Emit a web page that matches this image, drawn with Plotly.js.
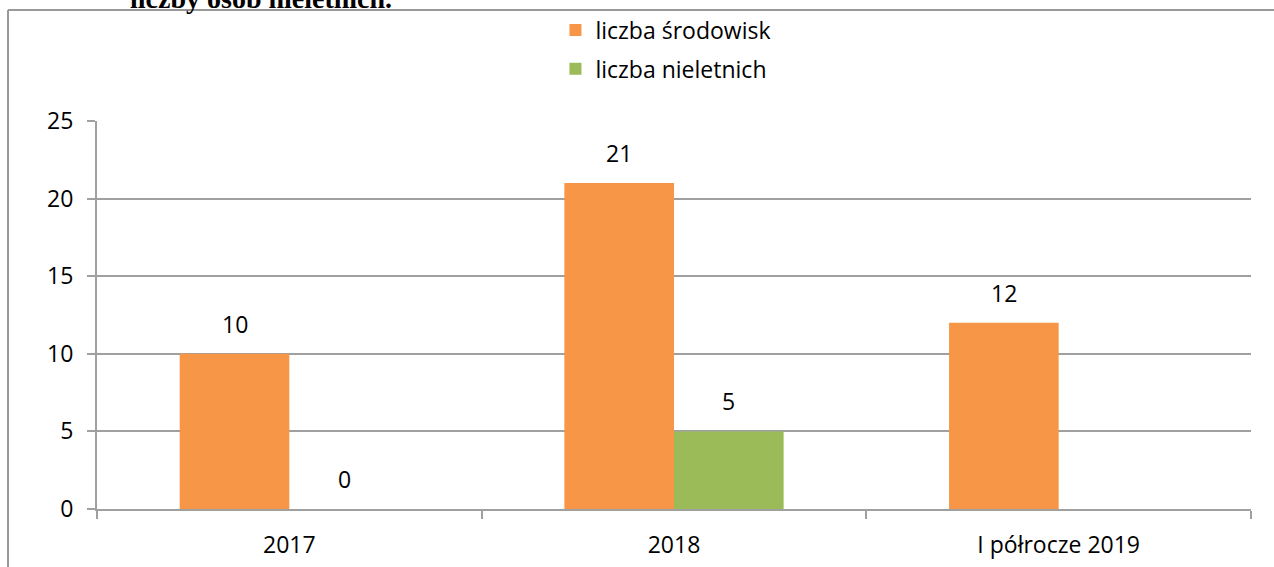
<!DOCTYPE html>
<html>
<head>
<meta charset="utf-8">
<script src="https://cdn.plot.ly/plotly-3.0.1.min.js"></script>
<style>
  html, body { margin: 0; padding: 0; background: #fff; overflow: hidden; }
  #wrap { position: relative; width: 1274px; height: 567px; }
  #frag { position: absolute; left: 130px; top: -15px; font-family: "Liberation Serif", serif; font-weight: bold; font-size: 28px; line-height: 28px; color: #000; white-space: nowrap; z-index: 2; }
  #chart { position: absolute; left: 0; top: 0; width: 1274px; height: 567px; }
</style>
</head>
<body>
<div id="wrap">
  <div id="frag">liczby osób nieletnich.</div>
  <div id="chart"></div>
</div>
<script>
// Data
const categories = ["2017", "2018", "I półrocze 2019"];
const seriesNames = ["liczba środowisk", "liczba nieletnich"];
const srodowisk = [10, 21, 12];
const nieletnich = [0, 5, null];
const yTicks = [0, 5, 10, 15, 20, 25];

const FONT = "Open Sans, Noto Sans, sans-serif";
const FS = 23;
const colors = ["#F79646", "#9BBB59"];
const series = [srodowisk, nieletnich];

const W = 1274, H = 567;
const margin = { l: 97, r: 23, t: 121, b: 58, autoexpand: false };
const bargap = 0.43;
const plotW = W - margin.l - margin.r;
// half of one bar's width in pixels (used to centre the value labels on each bar)
const barHalf = plotW / categories.length * (1 - bargap) / series.length / 2;

const traces = series.map((vals, i) => ({
  type: "bar", name: seriesNames[i], x: categories, y: vals,
  marker: { color: colors[i] },
  legendgroup: "g" + i, hoverinfo: "none"
}));

// value labels: category axis positions are serial numbers of the categories
const annotations = [];
series.forEach((vals, i) => {
  vals.forEach((v, j) => {
    if (v === null) return;
    annotations.push({
      x: j, y: v, xref: "x", yref: "y",
      text: String(v), showarrow: false,
      xanchor: "center", yanchor: "bottom",
      xshift: (i === 0 ? -1 : 1) * barHalf, yshift: 12,
      font: { family: FONT, size: FS, color: "#000" }
    });
  });
});

const grid = "#a0a0a0";
const layout = {
  width: W, height: H,
  margin: margin,
  paper_bgcolor: "rgba(0,0,0,0)", plot_bgcolor: "#fff",
  font: { family: FONT, size: FS, color: "#000" },
  barmode: "group", bargap: bargap, bargroupgap: 0,
  showlegend: true,
  legend: {
    xref: "container", yref: "container",
    x: 0.436, xanchor: "left", y: 0.985, yanchor: "top",
    orientation: "v", traceorder: "grouped", tracegroupgap: 6,
    itemwidth: 30,
    font: { family: FONT, size: FS, color: "#000" },
    bgcolor: "rgba(0,0,0,0)"
  },
  xaxis: {
    type: "category", categoryorder: "array", categoryarray: categories,
    range: [-0.5, categories.length - 0.5],
    tickson: "boundaries", ticks: "outside", ticklen: 8,
    tickcolor: grid, tickwidth: 2,
    showline: true, linecolor: grid, linewidth: 2,
    showgrid: false, zeroline: false, ticklabelstandoff: 14,
    tickfont: { family: FONT, size: FS }
  },
  yaxis: {
    range: [0, 25], tickvals: yTicks, ticktext: yTicks.map(String),
    ticks: "outside", ticklen: 8, tickcolor: grid, tickwidth: 2,
    showline: true, linecolor: grid, linewidth: 2,
    showgrid: true, gridcolor: grid, gridwidth: 2, zeroline: false,
    ticklabelstandoff: 9, tickfont: { family: FONT, size: FS }
  },
  annotations: annotations,
  shapes: [
    { type: "line", xref: "paper", yref: "paper", x0: -0.0771, x1: -0.0771, y0: -0.2, y1: 1.286, line: { color: "#999", width: 2 } },
    { type: "line", xref: "paper", yref: "paper", x0: -0.0771, x1: 1.03, y0: 1.286, y1: 1.286, line: { color: "#999", width: 2 } }
  ]
};

Plotly.newPlot("chart", traces, layout, { staticPlot: true, displayModeBar: false });
</script>
</body>
</html>
